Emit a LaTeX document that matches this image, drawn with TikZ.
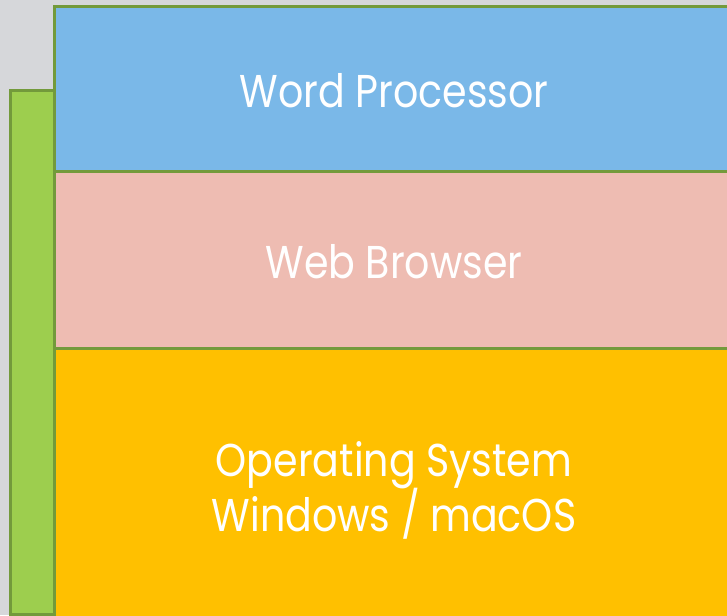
\documentclass[tikz,border=0pt]{standalone}
\usepackage{fontspec}
\setmainfont{Poppins}[FakeStretch=0.86]
\definecolor{bggray}{HTML}{D6D7DA}
\definecolor{edgegreen}{HTML}{739A3B}
\definecolor{barfill}{HTML}{9DCE4E}
\definecolor{wpblue}{HTML}{7AB8E8}
\definecolor{wbpink}{HTML}{EEBCB2}
\definecolor{osorange}{HTML}{FFC000}
\tikzset{
  layer/.style={draw=edgegreen, line width=3pt, inner sep=0pt, outer sep=0pt},
  label/.style={text=white, font=\fontsize{46}{55}\selectfont, align=center, inner sep=0pt}
}
\begin{document}
\begin{tikzpicture}[x=1pt, y=-1pt]
\useasboundingbox (0,0) rectangle (727,615);
\fill[bggray] (0,0) rectangle (727,615);
\begin{scope}
\clip (0,0) rectangle (727,615);
\draw[layer, fill=barfill] (10,90.5) rectangle (54.5,614) coordinate (barcorner);
\node[layer, fill=osorange, anchor=north west, minimum width=690pt, minimum height=280pt] (os) at (54.5,348) {};
\node[layer, fill=wbpink, anchor=north west, minimum width=690pt, minimum height=177pt] (wb) at (54.5,171) {};
\node[layer, fill=wpblue, anchor=north west, minimum width=690pt, minimum height=164.5pt] (wp) at (54.5,6.5) {};
\end{scope}
\node[label, anchor=base] (wptext) at (394,107) {Word Processor};
\node[label, anchor=base] (wbtext) at (394,278) {Web Browser};
\node[label, anchor=base] (ostext1) at (394,476) {Operating System};
\node[label, anchor=base] (ostext2) at (394,531) {Windows / macOS};
\end{tikzpicture}
\end{document}
